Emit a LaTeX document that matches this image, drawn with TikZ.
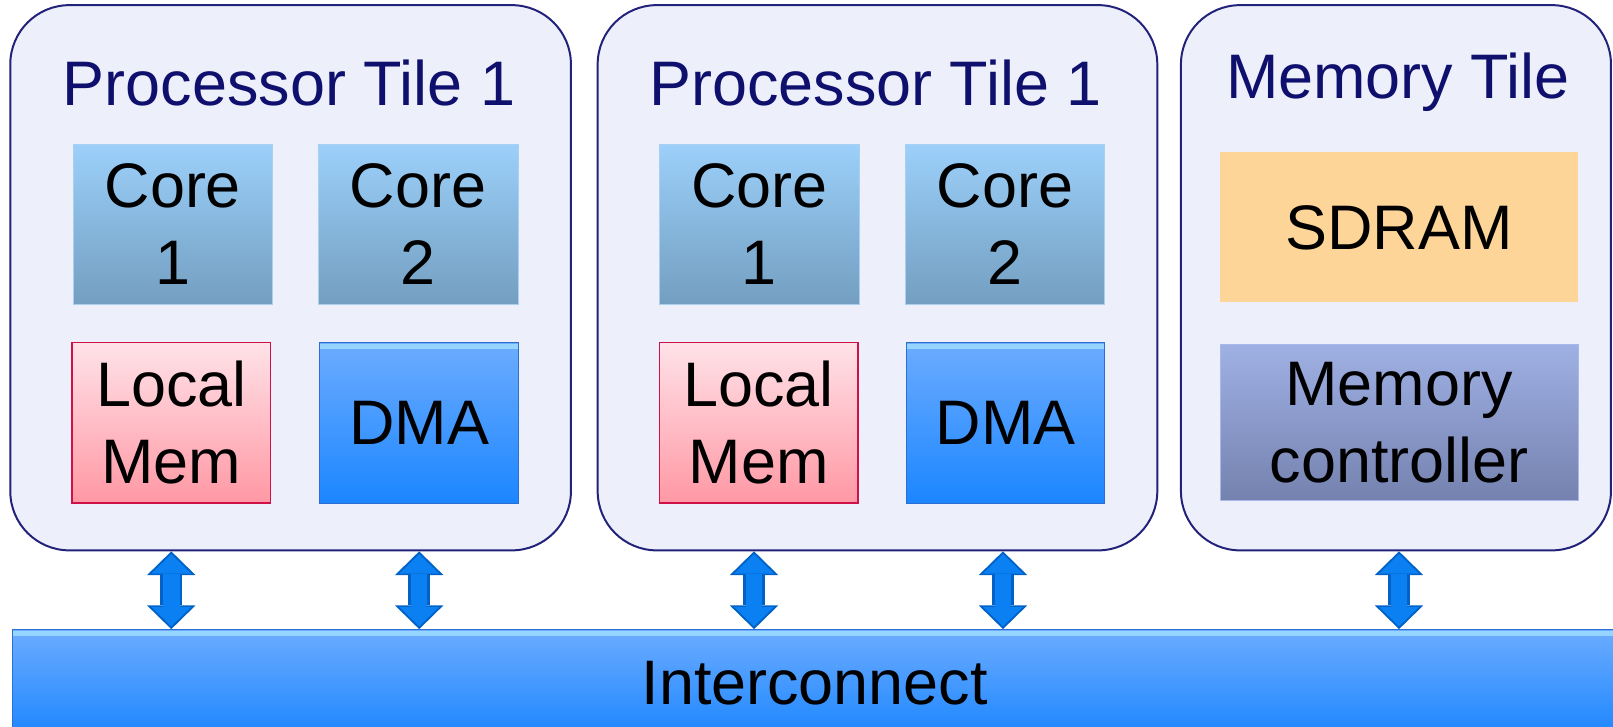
\documentclass[tikz,border=0pt]{standalone}
\usepackage{fontspec}
\setmainfont{Liberation Sans}
\usetikzlibrary{positioning,arrows.meta}

\definecolor{tilefill}{HTML}{EDF0FA}
\definecolor{tileline}{HTML}{22227A}
\definecolor{titlecol}{HTML}{0F0F6E}
\definecolor{coretop}{HTML}{9CD0FA}
\definecolor{corebot}{HTML}{739EC0}
\definecolor{coreline}{HTML}{A9D0F0}
\definecolor{lmtop}{HTML}{FFE2E8}
\definecolor{lmbot}{HTML}{FF98A4}
\definecolor{lmline}{HTML}{D01048}
\definecolor{dmatop}{HTML}{6CACFF}
\definecolor{dmabot}{HTML}{1C86FF}
\definecolor{dmaline}{HTML}{2C6FD0}
\definecolor{dmahi}{HTML}{A8E8FF}
\definecolor{sdramcol}{HTML}{FDD599}
\definecolor{mctop}{HTML}{9FB0E4}
\definecolor{mcbot}{HTML}{7582AF}
\definecolor{mcline}{HTML}{A8B8E8}
\definecolor{arrowdark}{HTML}{0061C6}
\definecolor{arrowlight}{HTML}{0A80F2}

\begin{document}
\begin{tikzpicture}[x=0.2mm, y=-0.2mm,
    lbl/.style={font=\fontsize{34.8}{42.5}\selectfont, align=center, inner sep=0pt},
    tile/.style={draw=tileline, line width=1.1pt, fill=tilefill, rounded corners=11.5mm, minimum height=106mm},
    tiletitle/.style={lbl, text=titlecol, anchor=base},
    core/.style={lbl, draw=coreline, line width=0.5pt, top color=coretop, bottom color=corebot, minimum width=38.8mm, minimum height=31.2mm},
    lmem/.style={lbl, draw=lmline, line width=0.9pt, top color=lmtop, bottom color=lmbot, minimum width=38.6mm, minimum height=31.2mm},
    bevel/.style={path picture={\fill[dmahi, opacity=0.7] ([yshift=-0.2mm]path picture bounding box.north west) rectangle ([yshift=-1.2mm]path picture bounding box.north east);}},
    dma/.style={lbl, draw=dmaline, line width=0.5pt, top color=dmatop, bottom color=dmabot, bevel, minimum width=38.6mm, minimum height=31.2mm},
    mem/.style={lbl, minimum width=69.6mm},
    link/.style={draw=arrowdark, line width=4.2mm,
        {Triangle[width=9.4mm, length=4.6mm, line width=0pt]}-{Triangle[width=9.4mm, length=4.6mm, line width=0pt]},
        postaction={draw=arrowlight, line width=3.2mm, shorten <=0.55mm, shorten >=0.55mm,
        {Triangle[width=7.8mm, length=3.8mm, line width=0pt]}-{Triangle[width=7.8mm, length=3.8mm, line width=0pt]}}}
  ]
  \useasboundingbox (0,0) rectangle (1568,706);

  % Tiles
  \node[tile, minimum width=109mm] (t1) at (282.5,270) {};
  \node[tile, minimum width=108.8mm] (t2) at (853,270) {};
  \node[tile, minimum width=83.6mm] (t3) at (1357,270) {};

  \node[tiletitle] (ti1) at (281,103) {Processor Tile 1};
  \node[tiletitle] (ti2) at (851,103) {Processor Tile 1};
  \node[tiletitle] (ti3) at (1359,96) {Memory Tile};

  % Processor tile contents
  \node[core] (c11) at (168,218) {Core\\1};
  \node[core] (c12) at (406.5,218) {Core\\2};
  \node[lmem] (lm1) at (166.5,411) {Local\\Mem};
  \node[dma] (dma1) at (407.5,411) {DMA};

  \node[core] (c21) at (738,218) {Core\\1};
  \node[core] (c22) at (977,218) {Core\\2};
  \node[lmem] (lm2) at (737.5,411) {Local\\Mem};
  \node[dma] (dma2) at (977.5,411) {DMA};

  % Memory tile contents
  \node[mem, fill=sdramcol, minimum height=29.2mm] (sdram) at (1360,221) {SDRAM};
  \node[mem, draw=mcline, line width=0.5pt, top color=mctop, bottom color=mcbot, minimum height=30.2mm] (mc) at (1360,410.5) {Memory\\controller};

  % Interconnect
  \node[lbl, draw=dmaline, line width=0.5pt, top color=dmatop, bottom color=dmabot, bevel,
        minimum width=312mm, minimum height=20.8mm] (ic) at (792,664) {Interconnect};

  % Links to the interconnect
  \draw[link] (lm1.south |- t1.south) -- (lm1.south |- ic.north);
  \draw[link] (dma1.south |- t1.south) -- (dma1.south |- ic.north);
  \draw[link] ([xshift=-0.9mm]lm2.south |- t2.south) -- ([xshift=-0.9mm]lm2.south |- ic.north);
  \draw[link] ([xshift=-0.5mm]dma2.south |- t2.south) -- ([xshift=-0.5mm]dma2.south |- ic.north);
  \draw[link] (mc.south |- t3.south) -- (mc.south |- ic.north);
\end{tikzpicture}
\end{document}
